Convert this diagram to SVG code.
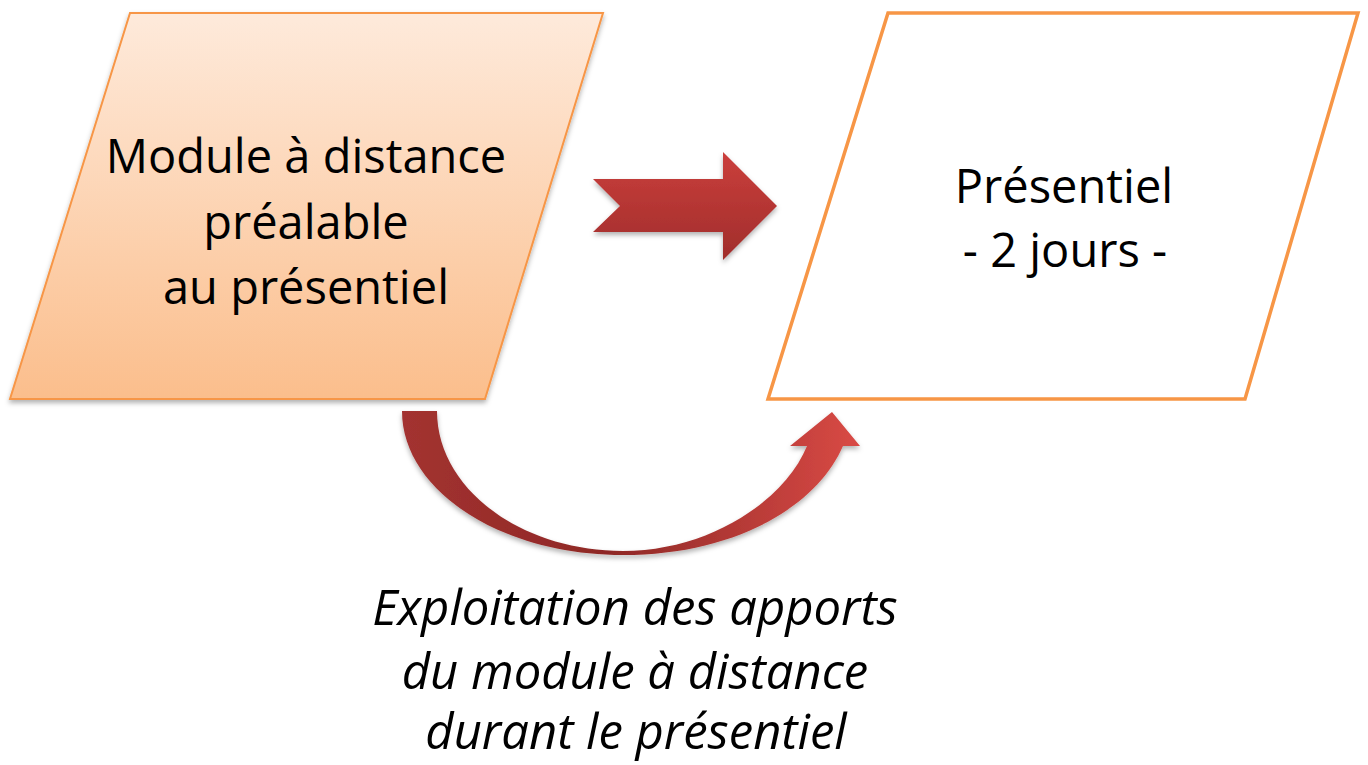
<svg xmlns="http://www.w3.org/2000/svg" width="1368" height="765" viewBox="0 0 1368 765">
<defs>
<linearGradient id="gOrange" x1="0" y1="0" x2="0" y2="1">
<stop offset="0" stop-color="#FEEADB"/>
<stop offset="1" stop-color="#FBBE8C"/>
</linearGradient>
<linearGradient id="gRed" x1="0" y1="0" x2="0" y2="1">
<stop offset="0" stop-color="#CB3F3C"/>
<stop offset="1" stop-color="#A02D2B"/>
</linearGradient>
<linearGradient id="gCurve" x1="0" y1="0" x2="1" y2="0">
<stop offset="0" stop-color="#A33230"/>
<stop offset="0.45" stop-color="#8E2826"/>
<stop offset="1" stop-color="#D94A45"/>
</linearGradient>
<filter id="sh" x="-10%" y="-10%" width="120%" height="125%">
<feDropShadow dx="0" dy="3" stdDeviation="2.5" flood-color="#000" flood-opacity="0.3"/>
</filter>
<style>
.t{font-family:"Open Sans","Liberation Sans",sans-serif;font-size:47px;fill:#000;text-anchor:middle}
.i{font-family:"Open Sans","Liberation Sans",sans-serif;font-size:49px;font-style:italic;fill:#000;text-anchor:middle}
</style>
</defs>
<rect width="1368" height="765" fill="#fff"/>
<g id="node-module">
<polygon points="130,13 603,13 485,399 10,399" fill="url(#gOrange)" stroke="#F79646" stroke-width="2" filter="url(#sh)"/>
<text class="t" x="306" y="173">Module à distance</text>
<text class="t" x="306" y="239">préalable</text>
<text class="t" x="306" y="304">au présentiel</text>
</g>
<g id="node-presentiel">
<polygon points="888,13 1358,13 1245,399 768,399" fill="#fff" stroke="#F79646" stroke-width="3.5"/>
<text class="t" x="1064" y="203">Présentiel</text>
<text class="t" x="1065" y="267">- 2 jours -</text>
</g>
<g id="connectors">
<polygon points="593,179 723,179 723,152 777,206 723,260 723,232 593,232 620,206" fill="url(#gRed)" filter="url(#sh)"/>
<path d="M402,411 C402,490 500,555 623,555 C730,555 815,510 843,446 L860,446 L832,412 L790,446 L807,446 C785,500 710,551 623,551 C520,551 437,488 437,411 Z" fill="url(#gCurve)" filter="url(#sh)"/>
</g>
<g id="label-exploitation">
<text class="i" x="635" y="625">Exploitation des apports</text>
<text class="i" x="635" y="689">du module à distance</text>
<text class="i" x="636" y="749">durant le présentiel</text>
</g>
</svg>
